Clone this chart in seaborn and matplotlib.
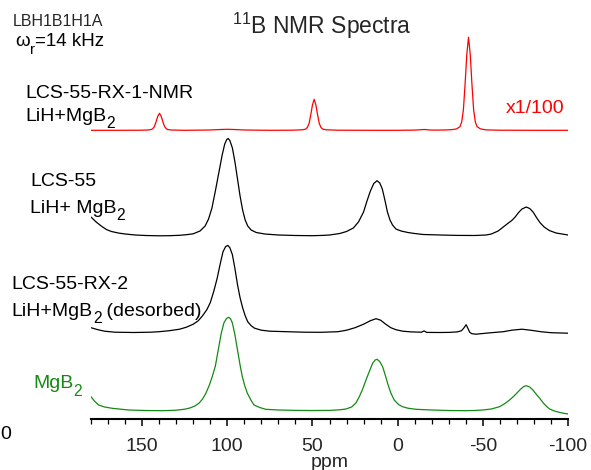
import pandas as pd
import matplotlib
matplotlib.use("Agg")
import matplotlib.pyplot as plt
from matplotlib.ticker import MultipleLocator
import seaborn as sns

# (ppm, intensity above the trace's own baseline)
rx1_pts = [(180, 0), (165, 0), (150, 0.1), (146.8, 0.3), (144.8, 0.7), (143.8, 1.5), (142.8, 3.7),
           (141.8, 8.5), (140.8, 14), (139.8, 17), (138.8, 14), (137.8, 8.5), (136.8, 3.7),
           (135.8, 1.5), (134.8, 0.7), (132.8, 0.3), (125, 0), (110, 0.3), (104, 0.8), (100, 1),
           (96, 0.8), (90, 0.3), (75, 0), (62, 0.1), (56, 0.5), (54, 1.2), (53, 2.8), (52, 6.8),
           (51, 15.5), (50, 25.4), (49, 31), (48, 25.4), (47, 15.5), (46, 6.8), (45, 2.8), (44, 1.2),
           (42, 0.5), (35, 0.1), (15, 0), (0, 0), (-10, 0.2), (-15.7, 0.8), (-20, 0.2), (-28, 0.3),
           (-32, 0.7), (-34.6, 1.4), (-36.6, 3.7), (-37.6, 8.4), (-38.6, 20.5), (-39.6, 46.5),
           (-40.6, 76), (-41.6, 93), (-42.6, 76), (-43.6, 46.5), (-44.6, 20.5), (-45.6, 8.4),
           (-46.6, 3.7), (-48.6, 1.4), (-52, 0.4), (-60, 0.1), (-80, 0), (-100, 0)]

lcs55_pts = [(180, 19), (177, 14), (174, 10), (171, 6.5), (168, 4.5), (164, 3), (160, 2), (154, 1),
             (148, 0.5), (140, 0.2), (134, 0.3), (128, 0.7), (124, 1.3), (120, 2.2), (116, 5),
             (113, 10), (111, 17), (109, 28), (107, 45), (105, 63), (103, 81), (101.5, 92),
             (100.3, 96.5), (99.5, 97.5), (98.5, 95.5), (97, 88), (95.5, 74), (94, 57), (92.5, 40),
             (91, 26), (89.5, 16), (88, 10), (86, 6), (83, 3.5), (78, 2), (70, 1), (60, 0.5),
             (50, 0.3), (44, 0.6), (40, 1), (34, 2.5), (30, 4.5), (26, 8), (23, 14), (20, 24),
             (18, 35), (16, 45), (14, 52.5), (12.1, 55.3), (10.5, 53), (9, 47), (7.5, 36), (6, 24),
             (4.5, 16), (3, 11), (1, 7), (-2, 5), (-6, 3.5), (-10, 2.5), (-15, 1.5), (-25, 1),
             (-35, 0.6), (-45, 0.5), (-52, 1), (-55, 2), (-59, 5), (-62, 9), (-65, 13), (-67, 15.5),
             (-69, 19), (-71, 23.5), (-73, 27), (-75.5, 29), (-77.5, 27.5), (-79.5, 24),
             (-81.5, 18.5), (-83.5, 13.5), (-86, 9), (-89, 5.5), (-93, 3), (-100, 1)]

rx2_pts = [(180, 5), (176, 3), (172, 1.5), (166, 0.5), (155, 0.2), (145, 0.5), (140, 1), (134, 2),
           (128, 3.5), (124, 5.5), (120, 8.5), (117, 12), (114.5, 17), (112, 23), (110, 30),
           (108, 41), (106, 54), (104, 70), (102.5, 81), (101, 86), (99.7, 87.3), (98.5, 85),
           (97, 78), (95.5, 64), (94, 48), (92.5, 35), (91, 25), (89.5, 17), (88, 11), (86, 7),
           (84, 4.5), (80, 2.5), (75, 1.5), (65, 1), (55, 0.5), (45, 0.4), (35, 1), (30, 2.5),
           (25, 5), (20, 8.5), (16, 12), (12.7, 14), (10, 12.5), (7, 8.5), (4, 5), (1, 3),
           (-3, 1.5), (-8, 0.8), (-14, 0.5), (-15.5, 1.8), (-17, 0.3), (-24, 0.2), (-30, 0.3),
           (-35, 0.8), (-37.5, 2), (-39, 5), (-40.2, 8), (-41.2, 4.5), (-42.3, 0.5), (-43.5, -1),
           (-46, -1.5), (-50, -0.8), (-55, 0), (-62, 1), (-67, 2.5), (-73, 3.5), (-78, 2.5),
           (-84, 1), (-90, 0), (-100, -0.5)]

mgb2_pts = [(180, 14.3), (178, 10), (175.5, 6), (172, 4), (167.6, 2.7), (158, 1), (148, 0.5),
            (138, 0.3), (130, 0.8), (125, 1.8), (122, 3), (119, 5), (116.5, 8), (114.5, 12),
            (112.5, 18), (110.5, 26), (108.8, 34.5), (107, 45), (105, 64), (103.5, 78), (102, 88),
            (100.5, 92.5), (99.2, 93.7), (98, 92), (97, 88), (95.5, 76), (94, 61), (92.5, 46),
            (91.2, 34.5), (89.7, 25), (88.2, 17.7), (86, 10.5), (84.3, 6), (81, 3.5), (77.4, 1.7),
            (70, 1), (60, 0.6), (50, 0.5), (40, 0.6), (34, 1.2), (30.4, 2), (27, 4), (24.5, 8),
            (22.5, 14.3), (20.5, 22), (18.6, 31), (16.5, 40), (14.7, 47.7), (13.2, 51),
            (12.1, 51.7), (10.5, 49.5), (8.8, 44.3), (7.3, 36), (5.9, 27.7), (4, 18), (2, 11),
            (-0.5, 6.5), (-2.9, 4.3), (-6, 2.8), (-10.8, 1.7), (-20, 1), (-30, 0.5), (-40, 0.3),
            (-46, 0.6), (-50, 1), (-55, 2), (-59.8, 4.3), (-63, 7.5), (-65.7, 11), (-68, 14.5),
            (-70, 18), (-72, 21.5), (-74, 24.5), (-75.5, 25.3), (-77.5, 24), (-79.4, 21),
            (-81.5, 16.5), (-83.4, 12.7), (-85.5, 8), (-87.5, 4.5), (-89.2, 2), (-92, 0),
            (-96, -1.8), (-100, -3)]

traces = ["rx1", "lcs55", "rx2", "mgb2"]
tick_vals = [150, 100, 50, 0, -50, -100]

# vertical stacking and colours
offset = {"rx1": 288.2, "lcs55": 182.5, "rx2": 85.8, "mgb2": 7.5}
colors = {"rx1": "#ff0000", "lcs55": "black", "rx2": "black", "mgb2": "#138a13"}

rows = []
for name, pts in zip(traces, [rx1_pts, lcs55_pts, rx2_pts, mgb2_pts]):
    for p, v in pts:
        rows.append({"ppm": p, "y": v + offset[name], "trace": name})
df = pd.DataFrame(rows)

sns.set_style("white")
plt.rcParams["font.family"] = ["Liberation Sans", "DejaVu Sans"]
plt.rcParams["mathtext.fontset"] = "custom"
plt.rcParams["mathtext.rm"] = "Liberation Sans"
plt.rcParams["mathtext.it"] = "Liberation Sans:italic"
plt.rcParams["mathtext.bf"] = "Liberation Sans:bold"

W, H = 591, 470
fig = plt.figure(figsize=(W / 100, H / 100), dpi=100)
ax = fig.add_axes([91 / W, (H - 418.5) / H, (568 - 91) / W, (418.5 - 30) / H])

sns.lineplot(data=df, x="ppm", y="y", hue="trace", palette=colors, estimator=None,
             linewidth=0.9, legend=False, ax=ax)

ax.set_xlim(180, -100)
ax.set_ylim(0, 388.5)
for s in ["left", "right", "top"]:
    ax.spines[s].set_visible(False)
ax.spines["bottom"].set_linewidth(1.5)
ax.spines["bottom"].set_color("black")
ax.set_yticks([])
ax.set_ylabel("")
ax.set_xticks(tick_vals)
ax.set_xticklabels([str(t) for t in tick_vals])
ax.xaxis.set_minor_locator(MultipleLocator(10))
ax.tick_params(axis="x", which="major", direction="out", length=5.3, width=1.1,
               labelsize=14, pad=9, color="black", bottom=True)
ax.tick_params(axis="x", which="minor", direction="out", length=3.4, width=0.9,
               color="black", bottom=True)
ax.set_xlabel("ppm", fontsize=14, labelpad=-1)

renderer = fig.canvas.get_renderer()


def runs(x, y, parts, size, color="black"):
    # parts: list of (text, is_subscript); subscripts are drawn smaller and dropped
    cx = x
    for txt, sub in parts:
        fs = size * 0.8 if sub else size
        dy = 7.5 if sub else 0
        t = fig.text(cx / W, 1 - (y + dy) / H, txt, fontsize=fs, color=color, va="baseline")
        cx += t.get_window_extent(renderer).width


lab = 14
fig.text(412 / W, 1 - 33.5 / H, r"$^{11}$B NMR Spectra", fontsize=16.5, ha="right", va="baseline")
fig.text(13 / W, 1 - 26.5 / H, "LBH1B1H1A", fontsize=11.5, va="baseline")
runs(15, 46, [("ω", False), ("r", True), ("=14 kHz", False)], 13.5)
runs(25, 98.3, [("LCS-55-RX-1-NMR", False)], lab)
runs(25, 121, [("LiH+MgB", False), ("2", True)], lab)
runs(506, 113.3, [("x1/100", False)], lab, color="#ff0000")
runs(30, 186, [("LCS-55", False)], lab)
runs(30, 212.7, [("LiH+ MgB", False), ("2", True)], lab)
runs(11.7, 289.3, [("LCS-55-RX-2", False)], lab)
runs(11.7, 315.7, [("LiH+MgB", False), ("2", True), (" (desorbed)", False)], lab)
runs(33.3, 388.3, [("MgB", False), ("2", True)], lab, color="#138a13")
runs(0.5, 439.3, [("0", False)], lab)

fig.savefig("out.png", dpi=100)
